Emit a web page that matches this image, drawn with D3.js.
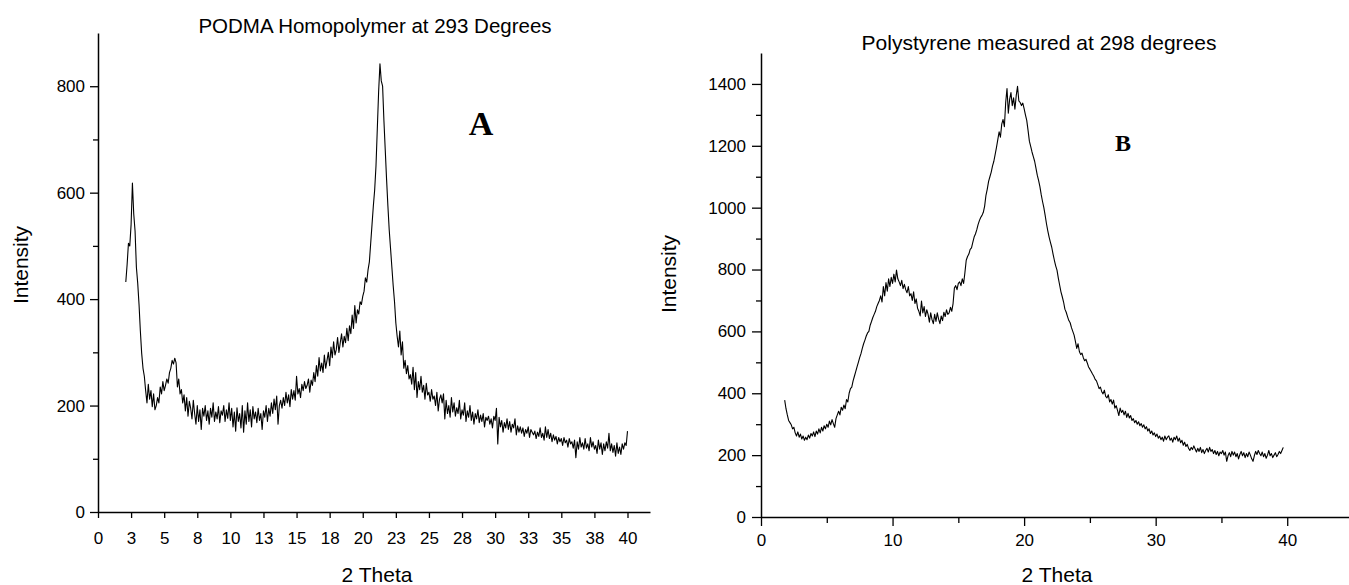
<!DOCTYPE html>
<meta charset="utf-8">
<body style="margin:0;background-color:white;">
<svg width="1349" height="585"></svg>
<script src="https://d3js.org/d3.v7.min.js"></script>
<script>

// --- panel A : PODMA homopolymer, 2 theta from 2.1 in steps of 0.1
var thetaStartA = 2.1, thetaStepA = 0.1;
var intensityA = [
	432, 465, 505, 500, 540, 618, 560, 528, 460,
	430, 390, 340, 298, 270, 255, 228, 205, 240, 212,
	228, 198, 222, 192, 200, 215, 205, 235, 222, 245,
	228, 238, 250, 242, 262, 270, 285, 278, 289, 280,
	235, 250, 222, 230, 205, 220, 190, 215, 180, 208,
	195, 175, 210, 185, 165, 200, 170, 192, 155, 195,
	180, 200, 172, 190, 165, 195, 178, 205, 170, 188,
	175, 198, 168, 190, 182, 200, 170, 192, 176, 205,
	172, 195, 160, 188, 152, 196, 170, 185, 158, 200,
	150, 190, 165, 205, 170, 192, 160, 198, 175, 188,
	168, 195, 172, 185, 155, 190, 178, 200, 170, 195,
	180, 205, 185, 212, 192, 218, 165, 200, 210, 195,
	215, 200, 225, 205, 220, 198, 230, 212, 228, 210,
	255, 222, 232, 215, 240, 228, 245, 232, 238, 250,
	225, 248, 238, 262, 245, 275, 255, 290, 265, 280,
	262, 295, 270, 285, 300, 275, 310, 290, 320, 295,
	305, 328, 300, 318, 335, 310, 330, 318, 345, 322,
	350, 335, 370, 345, 388, 355, 380, 372, 395, 390,
	405, 415, 440, 432, 455, 470, 505, 540, 575, 605,
	650, 720, 790, 842, 810, 800, 735, 680, 625, 575,
	530, 495, 460, 425, 395, 355, 330, 310, 340, 295,
	320, 270, 285, 260, 275, 250, 258, 240, 272, 230,
	262, 215, 245, 230, 255, 225, 238, 212, 242, 220,
	225, 208, 230, 212, 218, 200, 225, 190, 212, 220,
	205, 222, 175, 210, 185, 200, 178, 215, 188, 205,
	180, 196, 185, 210, 175, 192, 182, 205, 170, 190,
	178, 200, 172, 188, 165, 185, 175, 192, 168, 182,
	170, 185, 160, 178, 172, 180, 165, 175, 158, 180,
	172, 195, 128, 178, 160, 172, 150, 168, 158, 175,
	155, 170, 150, 165, 158, 175, 145, 162, 150, 160,
	148, 158, 142, 155, 148, 160, 140, 155, 150, 145,
	152, 138, 150, 142, 158, 140, 148, 135, 160, 140,
	155, 138, 148, 132, 145, 135, 142, 128, 140, 132,
	138, 125, 140, 130, 135, 122, 138, 128, 132, 120,
	135, 102, 132, 118, 140, 122, 130, 118, 138, 120,
	128, 115, 140, 122, 132, 118, 125, 110, 135, 118,
	130, 108, 128, 115, 132, 120, 148, 115, 128, 112,
	125, 105, 130, 110, 122, 108, 128, 118, 130, 125,
	152
];
var xTicksA = [0, 2.5, 5, 7.5, 10, 12.5, 15, 17.5, 20, 22.5, 25, 27.5, 30, 32.5, 35, 37.5, 40];
var yTicksA = [0, 200, 400, 600, 800];
var yMinorA = [100, 300, 500, 700];

// --- panel B : polystyrene, 2 theta from 1.8 in steps of 0.1
var thetaStartB = 1.8, thetaStepB = 0.1;
var intensityB = [
	378, 350, 330, 312, 305, 298, 285, 290, 272, 262, 275, 258,
	268, 252, 262, 248, 258, 250, 265, 255, 270, 262,
	275, 260, 278, 268, 285, 272, 290, 278, 295, 285,
	300, 290, 310, 298, 315, 302, 290, 318, 330, 342,
	330, 355, 345, 362, 350, 380, 372, 400, 415, 420,
	440, 455, 470, 485, 500, 515, 528, 545, 560, 572,
	585, 595, 600, 620, 632, 645, 655, 665, 680, 690,
	700, 715, 695, 745, 715, 758, 730, 770, 745, 775,
	755, 785, 760, 798, 770, 760, 748, 765, 738, 752,
	735, 725, 745, 715, 722, 700, 728, 690, 705, 675,
	665, 650, 698, 660, 680, 648, 670, 655, 630, 660,
	638, 625, 655, 632, 660, 640, 625, 650, 635, 662,
	648, 670, 655, 660, 678, 665, 690, 740, 748, 735,
	755, 760, 748, 770, 755, 790, 830, 842, 850, 865,
	870, 888, 905, 915, 928, 945, 958, 968, 975, 985,
	1005, 1040, 1060, 1085, 1100, 1115, 1135, 1150, 1172, 1195,
	1220, 1245, 1228, 1270, 1285, 1262, 1340, 1385, 1305, 1350,
	1372, 1330, 1355, 1318, 1362, 1392, 1345, 1340, 1330, 1338,
	1320, 1300, 1282, 1250, 1215, 1198, 1180, 1165, 1150, 1128,
	1105, 1088, 1068, 1042, 1020, 1000, 975, 948, 925, 905,
	888, 872, 850, 830, 812, 798, 772, 750, 728, 712,
	695, 672, 662, 648, 635, 628, 612, 600, 588, 568,
	545, 560, 535, 525, 530, 515, 505, 510, 498, 485,
	478, 470, 462, 455, 445, 440, 428, 415, 420, 405,
	398, 410, 390, 385, 395, 372, 380, 365, 378, 352,
	360, 345, 328, 352, 338, 345, 330, 342, 322, 335,
	320, 328, 312, 318, 305, 312, 300, 308, 295, 302,
	290, 298, 285, 292, 278, 285, 270, 278, 265, 272,
	260, 268, 255, 262, 250, 258, 245, 262, 250, 258,
	262, 248, 255, 242, 258, 250, 262, 245, 255, 240,
	248, 232, 242, 228, 235, 222, 215, 225, 218, 230,
	220, 210, 222, 212, 225, 208, 218, 205, 215, 222,
	210, 225, 212, 218, 205, 215, 202, 212, 198, 210,
	205, 215, 200, 210, 180, 198, 208, 195, 212, 200,
	210, 195, 205, 188, 202, 212, 198, 208, 192, 205,
	195, 210, 200, 188, 180, 198, 212, 202, 215, 205,
	198, 210, 195, 205, 190, 200, 215, 198, 205, 192,
	200, 208, 195, 202, 212, 205, 215, 225
];
var xTicksB = [0, 10, 20, 30, 40];
var xMinorB = [5, 15, 25, 35];
var yTicksB = [0, 200, 400, 600, 800, 1000, 1200, 1400];
var yMinorB = [100, 300, 500, 700, 900, 1100, 1300];

var svg = d3.select("svg");
var sans = "'Liberation Sans', Arial, sans-serif";
var serif = "'Liberation Serif', 'Times New Roman', serif";

function toPoints(start, step, values) {
	return values.map(function(v, i) { return [start + i * step, v]; });
}

function styleAxis(g, fontSize) {
	g.select(".domain").attr("stroke", "#000").attr("stroke-width", 1.5);
	g.selectAll(".tick line").attr("stroke", "#000").attr("stroke-width", 1.3);
	g.selectAll(".tick text").attr("fill", "#000")
		.style("font-family", sans).style("font-size", fontSize + "px");
}

function drawPanel(p) {
	var x = d3.scaleLinear().domain(p.xDomain).range(p.xRange);
	var y = d3.scaleLinear().domain(p.yDomain).range(p.yRange);
	var g = svg.append("g");

	// minor ticks first, without their own domain line
	var yMin = g.append("g").attr("transform", "translate(" + p.xRange[0] + ",0)")
		.call(d3.axisLeft(y).tickValues(p.yMinor).tickSize(5).tickFormat(""));
	yMin.select(".domain").remove();
	yMin.selectAll(".tick line").attr("stroke", "#000").attr("stroke-width", 1.3);

	if (p.xMinor) {
		var xMin = g.append("g").attr("transform", "translate(0," + p.yRange[0] + ")")
			.call(d3.axisBottom(x).tickValues(p.xMinor).tickSize(6).tickFormat(""));
		xMin.select(".domain").remove();
		xMin.selectAll(".tick line").attr("stroke", "#000").attr("stroke-width", 1.3);
	}

	var yAx = g.append("g").attr("transform", "translate(" + p.xRange[0] + ",0)")
		.call(d3.axisLeft(y).tickValues(p.yTicks).tickSize(p.ySize).tickPadding(p.yPad).tickSizeOuter(0)
			.tickFormat(d3.format("d")));
	styleAxis(yAx, p.tickFont);

	var xAx = g.append("g").attr("transform", "translate(0," + p.yRange[0] + ")")
		.call(d3.axisBottom(x).tickValues(p.xTicks).tickSize(p.xSize).tickPadding(p.xPad).tickSizeOuter(0)
			.tickFormat(function(d) { return Math.round(d); }));
	styleAxis(xAx, p.tickFont);

	var line = d3.line()
		.x(function(d) { return x(d[0]); })
		.y(function(d) { return y(d[1]); });

	g.append("path")
		.datum(p.points)
		.attr("d", line)
		.attr("fill", "none")
		.attr("stroke", "#000")
		.attr("stroke-width", 1.1)
		.attr("stroke-linejoin", "round");

	g.append("text")
		.attr("x", p.title[1]).attr("y", p.title[2])
		.attr("text-anchor", "middle")
		.style("font-family", sans).style("font-size", p.title[3] + "px")
		.text(p.title[0]);

	g.append("text")
		.attr("x", p.mark[1]).attr("y", p.mark[2])
		.attr("text-anchor", "middle")
		.style("font-family", serif).style("font-weight", "bold").style("font-size", p.mark[3] + "px")
		.text(p.mark[0]);

	g.append("text")
		.attr("transform", "translate(" + p.yLabel[0] + "," + p.yLabel[1] + ")rotate(-90)")
		.attr("text-anchor", "middle")
		.style("font-family", sans).style("font-size", "21px")
		.text("Intensity");

	g.append("text")
		.attr("x", p.xLabel[0]).attr("y", p.xLabel[1])
		.attr("text-anchor", "middle")
		.style("font-family", sans).style("font-size", "21px")
		.text("2 Theta");
}

drawPanel({
	points: toPoints(thetaStartA, thetaStepA, intensityA),
	xDomain: [0, 41.7], xRange: [98, 650],
	yDomain: [0, 900], yRange: [512, 33],
	xTicks: xTicksA, yTicks: yTicksA, yMinor: yMinorA, xMinor: null,
	xSize: 6, xPad: 14, ySize: 8, yPad: 5, tickFont: 17,
	title: ["PODMA Homopolymer at 293 Degrees", 375, 33, 20.5],
	mark: ["A", 481, 135, 34],
	yLabel: [28, 265],
	xLabel: [377, 582]
});

drawPanel({
	points: toPoints(thetaStartB, thetaStepB, intensityB),
	xDomain: [0, 45], xRange: [761, 1353],
	yDomain: [0, 1500], yRange: [517, 53],
	xTicks: xTicksB, yTicks: yTicksB, yMinor: yMinorB, xMinor: xMinorB,
	xSize: 9, xPad: 8, ySize: 9, yPad: 6, tickFont: 17,
	title: ["Polystyrene measured at 298 degrees", 1039, 50, 21],
	mark: ["B", 1123, 151, 24],
	yLabel: [676, 274],
	xLabel: [1057, 582]
});

</script>
</body>
